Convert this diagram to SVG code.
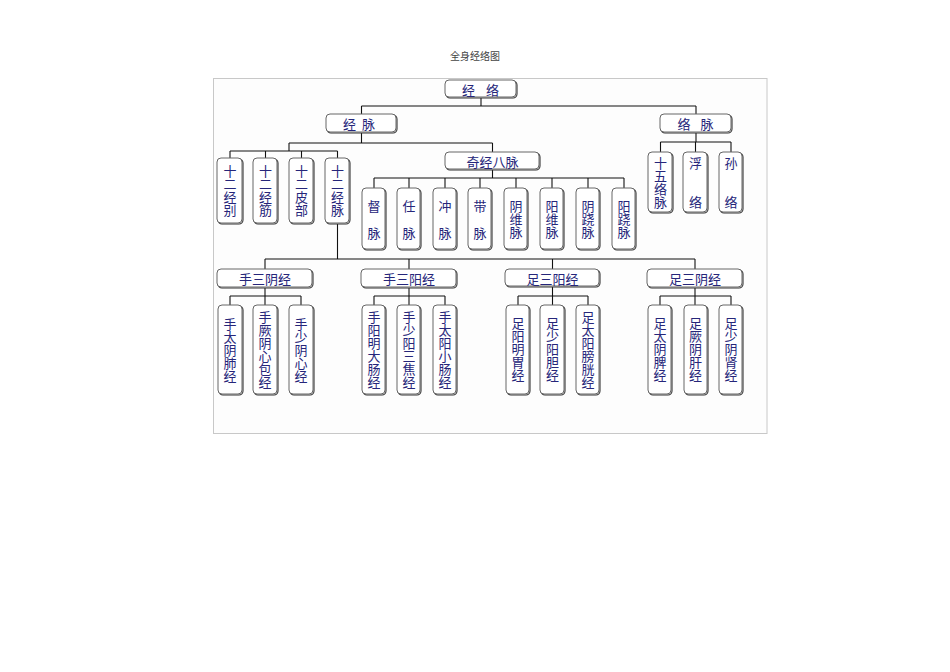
<svg xmlns="http://www.w3.org/2000/svg" width="950" height="672" viewBox="0 0 950 672">
<style>
.bg{fill:#ffffff}
.frame{fill:#fdfdfd;stroke:#c8c8c8;stroke-width:1}
.sh{fill:none;stroke:#333;stroke-width:1.1}
.bx{fill:#ffffff;stroke:#666;stroke-width:1}
.t{font-family:"Noto Sans CJK SC","Noto Sans",sans-serif;font-size:13px;fill:#26267a;text-anchor:middle;dominant-baseline:central}
.v{font-family:"Noto Sans CJK SC","Noto Sans",sans-serif;font-size:13px;fill:#26267a;text-anchor:middle;writing-mode:vertical-rl}
.title{font-family:"Noto Sans CJK SC","Noto Sans",sans-serif;font-size:10px;fill:#444;text-anchor:middle}
.c line{stroke:#111;stroke-width:1.1}
</style>
<rect class="bg" x="0" y="0" width="950" height="672"/>
<text class="title" x="475" y="60">全身经络图</text>
<rect class="frame" x="213.5" y="78.5" width="553.5" height="355"/>

<g id="connectors" class="c">
<line x1="481" y1="98" x2="481" y2="106"/>
<line x1="361.5" y1="106" x2="696" y2="106"/>
<line x1="361.5" y1="106" x2="361.5" y2="114"/>
<line x1="696" y1="106" x2="696" y2="114"/>
<line x1="361.5" y1="133" x2="361.5" y2="143"/>
<line x1="289" y1="143" x2="492.5" y2="143"/>
<line x1="289" y1="143" x2="289" y2="151"/>
<line x1="492.5" y1="143" x2="492.5" y2="152"/>
<line x1="230" y1="151" x2="337.5" y2="151"/>
<line x1="230" y1="151" x2="230" y2="158"/>
<line x1="265.5" y1="151" x2="265.5" y2="158"/>
<line x1="301.5" y1="151" x2="301.5" y2="158"/>
<line x1="337.5" y1="151" x2="337.5" y2="158"/>
<line x1="492.5" y1="170" x2="492.5" y2="178"/>
<line x1="374" y1="178" x2="624" y2="178"/>
<line x1="374" y1="178" x2="374" y2="188"/>
<line x1="409" y1="178" x2="409" y2="188"/>
<line x1="445" y1="178" x2="445" y2="188"/>
<line x1="480" y1="178" x2="480" y2="188"/>
<line x1="516" y1="178" x2="516" y2="188"/>
<line x1="552" y1="178" x2="552" y2="188"/>
<line x1="588" y1="178" x2="588" y2="188"/>
<line x1="624" y1="178" x2="624" y2="188"/>
<line x1="696" y1="133" x2="696" y2="142"/>
<line x1="660.5" y1="142" x2="731" y2="142"/>
<line x1="660.5" y1="142" x2="660.5" y2="152"/>
<line x1="695.5" y1="142" x2="695.5" y2="152"/>
<line x1="731" y1="142" x2="731" y2="152"/>
<line x1="337.5" y1="224" x2="337.5" y2="259"/>
<line x1="265" y1="259" x2="695" y2="259"/>
<line x1="265" y1="259" x2="265" y2="269"/>
<line x1="409" y1="259" x2="409" y2="269"/>
<line x1="552.5" y1="259" x2="552.5" y2="269"/>
<line x1="695" y1="259" x2="695" y2="269"/>
<line x1="265" y1="288" x2="265" y2="296"/>
<line x1="230" y1="296" x2="301" y2="296"/>
<line x1="230" y1="296" x2="230" y2="305"/>
<line x1="265" y1="296" x2="265" y2="305"/>
<line x1="301" y1="296" x2="301" y2="305"/>
<line x1="409" y1="288" x2="409" y2="296"/>
<line x1="374" y1="296" x2="445" y2="296"/>
<line x1="374" y1="296" x2="374" y2="305"/>
<line x1="409" y1="296" x2="409" y2="305"/>
<line x1="445" y1="296" x2="445" y2="305"/>
<line x1="552.5" y1="287" x2="552.5" y2="296"/>
<line x1="518" y1="296" x2="588" y2="296"/>
<line x1="518" y1="296" x2="518" y2="305"/>
<line x1="552.5" y1="296" x2="552.5" y2="305"/>
<line x1="588" y1="296" x2="588" y2="305"/>
<line x1="695" y1="288" x2="695" y2="296"/>
<line x1="660" y1="296" x2="731" y2="296"/>
<line x1="660" y1="296" x2="660" y2="305"/>
<line x1="695" y1="296" x2="695" y2="305"/>
<line x1="731" y1="296" x2="731" y2="305"/>
</g>

<!-- level 0/1 -->
<g id="n-jingluo"><rect class="sh" x="446" y="81" width="71" height="17" rx="4"/><rect class="bx" x="445" y="80" width="71" height="17" rx="4"/><text class="t" x="486" y="89" font-size="14" letter-spacing="11">经络</text></g>
<g id="n-jingmai"><rect class="sh" x="327" y="115" width="70" height="18" rx="4"/><rect class="bx" x="326" y="114" width="70" height="18" rx="4"/><text class="t" x="362" y="123.5" font-size="14" letter-spacing="6">经脉</text></g>
<g id="n-luomai"><rect class="sh" x="661" y="115" width="71" height="18" rx="4"/><rect class="bx" x="660" y="114" width="71" height="18" rx="4"/><text class="t" x="700.5" y="123.5" font-size="14" letter-spacing="10">络脉</text></g>

<!-- 经脉 children -->
<g id="n-shierjingbie"><rect class="sh" x="218" y="159" width="25" height="65" rx="4"/><rect class="bx" x="217" y="158" width="25" height="65" rx="4"/><text class="v" x="230" y="190.5">十二经别</text></g>
<g id="n-shierjingjin"><rect class="sh" x="254" y="159" width="24" height="65" rx="4"/><rect class="bx" x="253" y="158" width="24" height="65" rx="4"/><text class="v" x="265.5" y="190.5">十二经筋</text></g>
<g id="n-shierpibu"><rect class="sh" x="290" y="159" width="24" height="65" rx="4"/><rect class="bx" x="289" y="158" width="24" height="65" rx="4"/><text class="v" x="301.5" y="190.5">十二皮部</text></g>
<g id="n-shierjingmai"><rect class="sh" x="326" y="159" width="24" height="65" rx="4"/><rect class="bx" x="325" y="158" width="24" height="65" rx="4"/><text class="v" x="337.5" y="190.5">十二经脉</text></g>

<g id="n-qijingbamai"><rect class="sh" x="446" y="153" width="94" height="17" rx="4"/><rect class="bx" x="445" y="152" width="94" height="17" rx="4"/><text class="t" x="492.5" y="161" font-size="14">奇经八脉</text></g>

<!-- 奇经八脉 children -->
<g id="n-du"><rect class="sh" x="363" y="189" width="23" height="61" rx="4"/><rect class="bx" x="362" y="188" width="23" height="61" rx="4"/><text class="v" x="374" y="226.5" letter-spacing="14">督脉</text></g>
<g id="n-ren"><rect class="sh" x="398" y="189" width="23" height="61" rx="4"/><rect class="bx" x="397" y="188" width="23" height="61" rx="4"/><text class="v" x="409" y="226.5" letter-spacing="14">任脉</text></g>
<g id="n-chong"><rect class="sh" x="434" y="189" width="23" height="61" rx="4"/><rect class="bx" x="433" y="188" width="23" height="61" rx="4"/><text class="v" x="445" y="226.5" letter-spacing="14">冲脉</text></g>
<g id="n-dai"><rect class="sh" x="469" y="189" width="23" height="61" rx="4"/><rect class="bx" x="468" y="188" width="23" height="61" rx="4"/><text class="v" x="480" y="226.5" letter-spacing="14">带脉</text></g>
<g id="n-yinwei"><rect class="sh" x="505" y="189" width="23" height="61" rx="4"/><rect class="bx" x="504" y="188" width="23" height="61" rx="4"/><text class="v" x="516" y="219">阴维脉</text></g>
<g id="n-yangwei"><rect class="sh" x="541" y="189" width="23" height="61" rx="4"/><rect class="bx" x="540" y="188" width="23" height="61" rx="4"/><text class="v" x="552" y="219">阳维脉</text></g>
<g id="n-yinqiao"><rect class="sh" x="577" y="189" width="23" height="61" rx="4"/><rect class="bx" x="576" y="188" width="23" height="61" rx="4"/><text class="v" x="588" y="219">阴跷脉</text></g>
<g id="n-yangqiao"><rect class="sh" x="613" y="189" width="23" height="61" rx="4"/><rect class="bx" x="612" y="188" width="23" height="61" rx="4"/><text class="v" x="624" y="219">阳跷脉</text></g>

<!-- 络脉 children -->
<g id="n-shiwuluomai"><rect class="sh" x="649" y="153" width="24" height="60" rx="4"/><rect class="bx" x="648" y="152" width="24" height="60" rx="4"/><text class="v" x="660.5" y="182.5" font-size="12.5">十五络脉</text></g>
<g id="n-fuluo"><rect class="sh" x="684" y="153" width="24" height="60" rx="4"/><rect class="bx" x="683" y="152" width="24" height="60" rx="4"/><text class="v" x="695.5" y="195.5" letter-spacing="26">浮络</text></g>
<g id="n-sunluo"><rect class="sh" x="720" y="153" width="23" height="60" rx="4"/><rect class="bx" x="719" y="152" width="23" height="60" rx="4"/><text class="v" x="731" y="195.5" letter-spacing="26">孙络</text></g>

<!-- level 3 parents -->
<g id="n-shousanyin"><rect class="sh" x="218" y="270" width="95" height="18" rx="4"/><rect class="bx" x="217" y="269" width="95" height="18" rx="4"/><text class="t" x="265" y="278.5">手三阴经</text></g>
<g id="n-shousanyang"><rect class="sh" x="362" y="270" width="95" height="18" rx="4"/><rect class="bx" x="361" y="269" width="95" height="18" rx="4"/><text class="t" x="409" y="278.5">手三阳经</text></g>
<g id="n-zusanyang"><rect class="sh" x="506" y="270" width="94" height="17" rx="4"/><rect class="bx" x="505" y="269" width="94" height="17" rx="4"/><text class="t" x="552.5" y="278">足三阳经</text></g>
<g id="n-zusanyin"><rect class="sh" x="648" y="270" width="95" height="18" rx="4"/><rect class="bx" x="647" y="269" width="95" height="18" rx="4"/><text class="t" x="695" y="278.5">足三阴经</text></g>

<!-- 手三阴经 children -->
<g id="n-shoutaiyinfei"><rect class="sh" x="219" y="306" width="24" height="89" rx="4"/><rect class="bx" x="218" y="305" width="24" height="89" rx="4"/><text class="v" x="230" y="350">手太阴肺经</text></g>
<g id="n-shoujueyinxinbao"><rect class="sh" x="254" y="306" width="24" height="89" rx="4"/><rect class="bx" x="253" y="305" width="24" height="89" rx="4"/><text class="v" x="265" y="349.5" font-size="12.5">手厥阴心包经</text></g>
<g id="n-shoushaoyinxin"><rect class="sh" x="290" y="306" width="24" height="89" rx="4"/><rect class="bx" x="289" y="305" width="24" height="89" rx="4"/><text class="v" x="301" y="350">手少阴心经</text></g>

<!-- 手三阳经 children -->
<g id="n-shouyangmingdachang"><rect class="sh" x="363" y="306" width="23" height="89" rx="4"/><rect class="bx" x="362" y="305" width="23" height="89" rx="4"/><text class="v" x="374" y="349.5" font-size="12.5">手阳明大肠经</text></g>
<g id="n-shoushaoyangsanjiao"><rect class="sh" x="398" y="306" width="23" height="89" rx="4"/><rect class="bx" x="397" y="305" width="23" height="89" rx="4"/><text class="v" x="409" y="349.5" font-size="12.5">手少阳三焦经</text></g>
<g id="n-shoutaiyangxiaochang"><rect class="sh" x="434" y="306" width="23" height="89" rx="4"/><rect class="bx" x="433" y="305" width="23" height="89" rx="4"/><text class="v" x="445" y="349.5" font-size="12.5">手太阳小肠经</text></g>

<!-- 足三阳经 children -->
<g id="n-zuyangmingwei"><rect class="sh" x="507" y="306" width="23" height="89" rx="4"/><rect class="bx" x="506" y="305" width="23" height="89" rx="4"/><text class="v" x="518" y="349" font-size="12.5">足阳明胃经</text></g>
<g id="n-zushaoyangdan"><rect class="sh" x="541" y="306" width="24" height="89" rx="4"/><rect class="bx" x="540" y="305" width="24" height="89" rx="4"/><text class="v" x="552.5" y="349" font-size="12.5">足少阳胆经</text></g>
<g id="n-zutaiyangpangguang"><rect class="sh" x="577" y="306" width="23" height="89" rx="4"/><rect class="bx" x="576" y="305" width="23" height="89" rx="4"/><text class="v" x="588" y="349.5" font-size="12.5">足太阳膀胱经</text></g>

<!-- 足三阴经 children -->
<g id="n-zutaiyinpi"><rect class="sh" x="649" y="306" width="23" height="89" rx="4"/><rect class="bx" x="648" y="305" width="23" height="89" rx="4"/><text class="v" x="660" y="349" font-size="12.5">足太阴脾经</text></g>
<g id="n-zujueyingan"><rect class="sh" x="685" y="306" width="23" height="89" rx="4"/><rect class="bx" x="684" y="305" width="23" height="89" rx="4"/><text class="v" x="695.5" y="349" font-size="12.5">足厥阴肝经</text></g>
<g id="n-zushaoyinshen"><rect class="sh" x="720" y="306" width="23" height="89" rx="4"/><rect class="bx" x="719" y="305" width="23" height="89" rx="4"/><text class="v" x="731" y="349" font-size="12.5">足少阴肾经</text></g>
</svg>
